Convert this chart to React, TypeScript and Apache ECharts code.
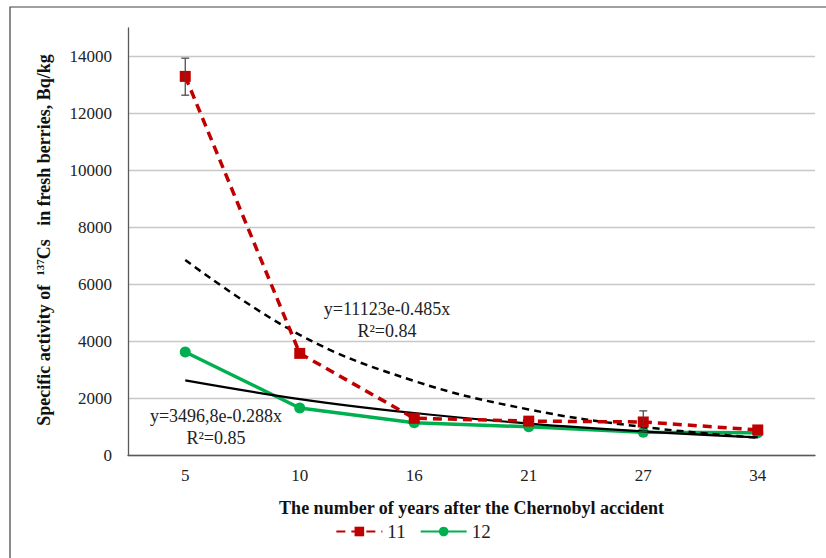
import React, { useEffect, useRef } from "react";
import * as echarts from "echarts";

const years = ["5", "10", "16", "21", "27", "34"];
const series11 = [13300, 3570, 1290, 1190, 1160, 880];
const series12 = [3620, 1650, 1130, 990, 800, 780];
const trend11 = [6850, 4220, 2600, 1600, 985, 606];
const trend12 = [2620, 1965, 1475, 1105, 830, 620];
// [category index, low, high]
const errorBars11 = [
  [0, 12640, 13940],
  [4, 820, 1550],
];
const yTicks = [0, 2000, 4000, 6000, 8000, 10000, 12000, 14000];

const SERIF = "Liberation Serif";

export default function App() {
  const ref = useRef<HTMLDivElement>(null);
  useEffect(() => {
    if (!ref.current) return;
    const chart = echarts.init(ref.current, null, { renderer: "svg" });
    chart.setOption({
      animation: false,
      backgroundColor: "#ffffff",
      textStyle: { fontFamily: SERIF },
      grid: { left: 128, right: 11, top: 28, bottom: 103, containLabel: false },
      xAxis: {
        type: "category",
        data: years,
        boundaryGap: true,
        axisLine: { lineStyle: { color: "#595959", width: 1.3 } },
        axisTick: { alignWithLabel: true, length: 4, lineStyle: { color: "#595959" } },
        axisLabel: { color: "#222", fontSize: 17, fontFamily: SERIF, margin: 12 },
        name: "The number of years after the Chernobyl accident",
        nameLocation: "middle",
        nameGap: 44,
        nameTextStyle: { color: "#111", fontSize: 18, fontWeight: "bold", fontFamily: SERIF },
      },
      yAxis: {
        type: "value",
        min: 0,
        max: 15000,
        interval: 2000,
        axisLine: { show: true, lineStyle: { color: "#595959", width: 1.3 } },
        axisTick: { show: false },
        axisLabel: {
          color: "#222",
          fontSize: 17,
          fontFamily: SERIF,
          margin: 16,
          showMaxLabel: false,
          formatter: (v: number) => (yTicks.includes(v) ? String(v) : ""),
        },
        splitLine: { show: true, showMaxLine: false, lineStyle: { color: "#c8c8c8", width: 1.3 } },
      },
      legend: {
        bottom: 12,
        left: "center",
        itemWidth: 46,
        itemHeight: 12,
        itemGap: 14,
        textStyle: { fontSize: 19, fontFamily: SERIF, color: "#222" },
        data: ["11", "12"],
      },
      graphic: [
        {
          type: "rect",
          shape: { x: 10, y: 7, width: 830, height: 560 },
          style: { fill: "none", stroke: "#404040", lineWidth: 1.2 },
          silent: true,
        },
        {
          type: "text",
          x: 44,
          y: 240,
          rotation: Math.PI / 2,
          style: {
            text: "Specific activity of  {sup|137}Cs   in fresh berries, Bq/kg",
            font: `bold 18px ${SERIF}`,
            fill: "#111",
            align: "center",
            verticalAlign: "middle",
            rich: {
              sup: { fontSize: 11, fontWeight: "bold", fontFamily: SERIF, verticalAlign: "top", padding: [0, 0, 8, 0] },
            },
          },
        },
        {
          type: "text",
          x: 387,
          y: 320,
          style: {
            text: "y=11123e-0.485x\nR²=0.84",
            font: `18px ${SERIF}`,
            fill: "#222",
            align: "center",
            verticalAlign: "middle",
            lineHeight: 22,
          },
        },
        {
          type: "text",
          x: 216,
          y: 427,
          style: {
            text: "y=3496,8e-0.288x\nR²=0.85",
            font: `18px ${SERIF}`,
            fill: "#222",
            align: "center",
            verticalAlign: "middle",
            lineHeight: 22,
          },
        },
      ],
      series: [
        {
          name: "trend11",
          type: "line",
          data: trend11,
          smooth: 0.4,
          symbol: "none",
          lineStyle: { color: "#000", width: 2.5, type: [7, 5] },
          z: 3,
        },
        {
          name: "trend12",
          type: "line",
          data: trend12,
          smooth: 0.4,
          symbol: "none",
          lineStyle: { color: "#000", width: 2.2 },
          z: 3,
        },
        {
          name: "11",
          type: "line",
          data: series11,
          symbol: "rect",
          symbolSize: 11,
          itemStyle: { color: "#C00000" },
          lineStyle: { color: "#C00000", width: 3.5, type: [9, 6] },
          z: 4,
        },
        {
          name: "12",
          type: "line",
          data: series12,
          symbol: "circle",
          symbolSize: 11,
          itemStyle: { color: "#00B050" },
          lineStyle: { color: "#00B050", width: 3.5 },
          z: 2,
        },
        {
          name: "err",
          type: "custom",
          data: errorBars11,
          z: 5,
          renderItem: (params: any, api: any) => {
            const i = api.value(0);
            const lo = api.coord([i, api.value(1)]);
            const hi = api.coord([i, api.value(2)]);
            const cap = 4;
            const style = { stroke: "#404040", lineWidth: 1.2 };
            return {
              type: "group",
              children: [
                { type: "line", shape: { x1: hi[0], y1: hi[1], x2: lo[0], y2: lo[1] }, style },
                { type: "line", shape: { x1: hi[0] - cap, y1: hi[1], x2: hi[0] + cap, y2: hi[1] }, style },
                { type: "line", shape: { x1: lo[0] - cap, y1: lo[1], x2: lo[0] + cap, y2: lo[1] }, style },
              ],
            };
          },
        },
      ],
    });
    return () => chart.dispose();
  }, []);
  return <div ref={ref} style={{ width: 826, height: 558, position: "absolute", left: 0, top: 0 }} />;
}
